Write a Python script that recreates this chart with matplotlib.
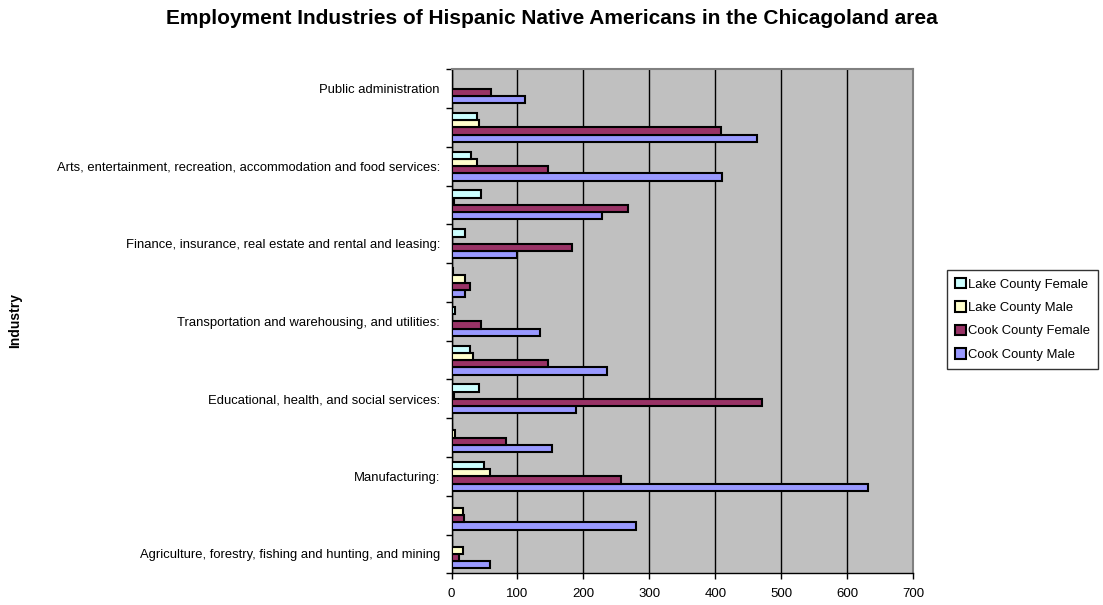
import matplotlib
matplotlib.use("Agg")
import matplotlib.pyplot as plt
import numpy as np

plt.rcParams['font.family'] = ['Liberation Sans', 'DejaVu Sans']

title = "Employment Industries of Hispanic Native Americans in the Chicagoland area"
categories = [
    "Agriculture, forestry, fishing and hunting, and mining",
    "Construction:",
    "Manufacturing:",
    "Wholesale trade:",
    "Educational, health, and social services:",
    "Retail trade:",
    "Transportation and warehousing, and utilities:",
    "Information:",
    "Finance, insurance, real estate and rental and leasing:",
    "Professional, scientific, management, administrative, and waste management services:",
    "Arts, entertainment, recreation, accommodation and food services:",
    "Other services (except public administration):",
    "Public administration",
]
series_names = ["Cook County Male", "Cook County Female", "Lake County Male", "Lake County Female"]
cook_male = [58, 279, 631, 152, 189, 235, 134, 20, 99, 228, 410, 463, 112]
cook_female = [11, 19, 257, 83, 470, 147, 45, 28, 183, 267, 146, 408, 60]
lake_male = [18, 17, 59, 5, 4, 32, 0, 21, 0, 4, 38, 42, 0]
lake_female = [0, 0, 50, 0, 42, 28, 6, 3, 20, 45, 29, 38, 0]
colors = ["#9999FF", "#993366", "#FFFFCC", "#CCFFFF"]
xticks = [0, 100, 200, 300, 400, 500, 600, 700]

W, H = 1103, 605
fig = plt.figure(figsize=(W / 100, H / 100), dpi=100)
ax = fig.add_axes([451.5 / W, 1 - 573.3 / H, (913.3 - 451.5) / W, (573.3 - 69.3) / H])
ax.set_facecolor("#C0C0C0")

series = [cook_male, cook_female, lake_male, lake_female]
y = np.arange(len(categories))
h = 0.187
offsets = [-1.5 * h, -0.5 * h, 0.5 * h, 1.5 * h]
for vals, name, col, off in zip(series, series_names, colors, offsets):
    ax.barh(y + off, vals, height=h, color=col, edgecolor="black", linewidth=1.5,
            label=name, zorder=3)

ax.set_xlim(0, 700)
ax.set_ylim(-0.5, len(categories) - 0.5)
ax.set_xticks(xticks)
ax.set_xticklabels([str(t) for t in xticks], fontsize=9.5)
ax.xaxis.grid(True, color="black", linewidth=1.0, zorder=1)
ax.set_axisbelow(True)

ax.set_yticks(y[::2])
ax.set_yticklabels(categories[::2], fontsize=9.4)
ax.set_yticks(np.arange(-0.5, len(categories), 1.0), minor=True)
ax.tick_params(axis="y", which="major", length=0, pad=8.3)
ax.tick_params(axis="y", which="minor", length=4, width=1, color="black", direction="out")
ax.tick_params(axis="x", which="major", length=4, width=1, color="black", direction="out", pad=6.5)

for s in ["top", "right"]:
    ax.spines[s].set_color("#808080")
    ax.spines[s].set_linewidth(1.5)
ax.spines["left"].set_color("black")
ax.spines["bottom"].set_color("black")
ax.spines["left"].set_linewidth(1.0)
ax.spines["bottom"].set_linewidth(1.0)

fig.text(0.5, 1 - 18 / H, title, ha="center", va="center", fontsize=15, fontweight="bold")
fig.text(15 / W, 1 - 320.7 / H, "Industry", rotation=90, ha="center", va="center",
         fontsize=10, fontweight="bold")

handles, labels = ax.get_legend_handles_labels()
leg = fig.legend(handles[::-1], labels[::-1], loc="upper left",
                 bbox_to_anchor=(947 / W, 1 - 270 / H), bbox_transform=fig.transFigure,
                 fontsize=9.4, frameon=True, fancybox=False, edgecolor="black",
                 borderaxespad=0, handlelength=0.85, handleheight=0.85,
                 handletextpad=0.15, labelspacing=0.82, borderpad=0.6)
leg.get_frame().set_linewidth(1.0)

fig.savefig("out.png", dpi=100)
